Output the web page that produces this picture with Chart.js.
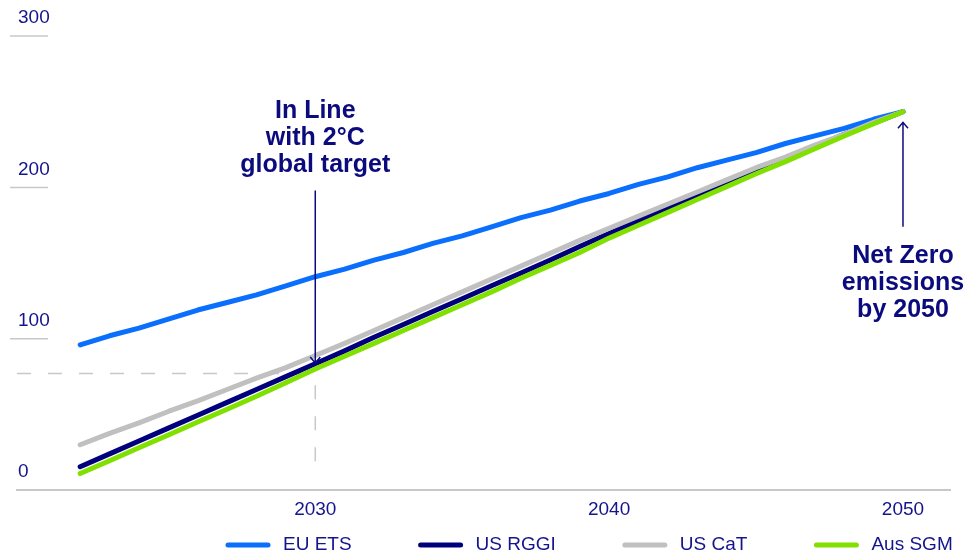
<!DOCTYPE html>
<html>
<head>
<meta charset="utf-8">
<script src="https://cdn.jsdelivr.net/npm/chart.js@4.4.1/dist/chart.umd.min.js"></script>
<style>
  html, body { margin: 0; padding: 0; background: #fff; }
  #wrap { position: relative; width: 964px; height: 557px; }
</style>
</head>
<body>
<div id="wrap"><canvas id="chart"></canvas></div>
<script>
const years = [2022, 2023, 2024, 2025, 2026, 2027, 2028, 2029, 2030, 2031, 2032, 2033, 2034, 2035,
  2036, 2037, 2038, 2039, 2040, 2041, 2042, 2043, 2044, 2045, 2046, 2047, 2048, 2049, 2050];

const euEts = [96, 102, 107, 113, 119, 124, 129, 135, 141, 146, 152, 157, 163, 168, 174,
  180, 185, 191, 196, 202, 207, 213, 218, 223, 229, 234, 239, 245, 250];
const usRggi = [15.5, 24, 32.5, 41, 49.5, 58, 66.5, 75, 83.5, 92, 101, 109.5, 118, 126.5, 135,
  143.5, 152, 161, 169.5, 178, 186.5, 195, 203, 211, 219, 227, 235, 242.5, 250];
const usCat = [30, 37.5, 44.5, 52, 59, 66.5, 74, 81, 89, 97, 105.5, 114, 122.5, 131, 139.5,
  148, 156.5, 165, 173, 181, 189, 197, 205, 213, 220, 228, 235, 243, 250];
const ausSgm = [11, 19.5, 28, 36.5, 45, 53.5, 62, 71, 80, 88.5, 97, 105.5, 114, 122.5, 131,
  140, 148.5, 157, 166.5, 175, 183.5, 192, 200.5, 209, 217, 225.5, 234, 242, 250];

const seriesNames = ['EU ETS', 'US RGGI', 'US CaT', 'Aus SGM'];
const yTicks = [0, 100, 200, 300];
const xTicks = [2030, 2040, 2050];

const TEXT = '#14148c';
const NOTE = '#0b0b7e';
const GUIDE = '#c8c8c8';
const FONT = 'Arial, "Liberation Sans", sans-serif';

Chart.defaults.font.family = FONT;

function pts(values) {
  return years.map((yr, i) => ({ x: yr, y: values[i] }));
}

function arrow(ctx, x, yFrom, yTip) {
  const dir = yTip > yFrom ? 1 : -1;
  ctx.beginPath();
  ctx.moveTo(x, yFrom);
  ctx.lineTo(x, yTip);
  ctx.moveTo(x - 5, yTip - dir * 6);
  ctx.lineTo(x, yTip);
  ctx.lineTo(x + 5, yTip - dir * 6);
  ctx.stroke();
}

const notes = {
  id: 'notes',
  beforeDatasetsDraw(chart) {
    const { ctx, chartArea, scales: { x, y } } = chart;
    ctx.save();
    ctx.strokeStyle = GUIDE;
    ctx.lineWidth = 1.5;
    // short rules under the y labels
    yTicks.forEach(v => {
      if (v === 0) return;
      const py = y.getPixelForValue(v);
      ctx.beginPath();
      ctx.moveTo(10, py);
      ctx.lineTo(48, py);
      ctx.stroke();
    });
    // dashed guide to the 2030 level
    const gx = x.getPixelForValue(2030);
    const gy = y.getPixelForValue(77);
    ctx.setLineDash([14, 17]);
    ctx.beginPath();
    ctx.moveTo(chartArea.left, gy);
    ctx.lineTo(gx, gy);
    ctx.lineTo(gx, y.getPixelForValue(10));
    ctx.stroke();
    ctx.restore();
  },
  afterDatasetsDraw(chart) {
    const { ctx, scales: { x, y } } = chart;
    ctx.save();
    ctx.strokeStyle = NOTE;
    ctx.fillStyle = NOTE;
    ctx.lineWidth = 1.5;
    ctx.font = 'bold 25px ' + FONT;
    ctx.textAlign = 'center';
    ctx.textBaseline = 'alphabetic';

    const x1 = x.getPixelForValue(2030);
    const top1 = y.getPixelForValue(198);
    arrow(ctx, x1, top1, y.getPixelForValue(84));
    ['In Line', 'with 2°C', 'global target'].forEach((t, i) => {
      ctx.fillText(t, x1, top1 - 72 + i * 27);
    });

    const x2 = x.getPixelForValue(2050);
    const tail2 = y.getPixelForValue(174);
    arrow(ctx, x2, tail2, y.getPixelForValue(243));
    ['Net Zero', 'emissions', 'by 2050'].forEach((t, i) => {
      ctx.fillText(t, x2, tail2 + 36 + i * 27);
    });
    ctx.restore();
  },
  afterDraw(chart) {
    // legend row along the bottom
    const { ctx } = chart;
    ctx.save();
    ctx.font = '19px ' + FONT;
    ctx.textBaseline = 'middle';
    ctx.textAlign = 'left';
    ctx.lineCap = 'round';
    const cy = 545;
    let cx = 228;
    chart.data.datasets.forEach(ds => {
      ctx.strokeStyle = ds.borderColor;
      ctx.lineWidth = 5;
      ctx.beginPath();
      ctx.moveTo(cx, cy);
      ctx.lineTo(cx + 40, cy);
      ctx.stroke();
      ctx.fillStyle = TEXT;
      ctx.fillText(ds.label, cx + 55, cy);
      cx += 55 + ctx.measureText(ds.label).width + 69;
    });
    ctx.restore();
  }
};

const colors = ['#0a6ffc', '#00007c', '#c0c0c0', '#80e000'];
const values = [euEts, usRggi, usCat, ausSgm];

new Chart(document.getElementById('chart'), {
  type: 'line',
  data: {
    datasets: values.map((v, i) => ({
      label: seriesNames[i],
      data: pts(v),
      borderColor: colors[i],
      backgroundColor: colors[i],
      borderWidth: 5,
      borderCapStyle: 'round',
      borderJoinStyle: 'round',
      pointRadius: 0,
      tension: 0,
      order: 3 - i
    }))
  },
  options: {
    responsive: true,
    maintainAspectRatio: false,
    animation: false,
    layout: { padding: { left: 15, right: 14, top: 36, bottom: 28 } },
    plugins: {
      legend: { display: false },
      tooltip: { enabled: false }
    },
    scales: {
      x: {
        type: 'linear',
        min: 2019.85,
        max: 2051.6,
        afterBuildTicks: axis => { axis.ticks = xTicks.map(v => ({ value: v })); },
        grid: { display: false, drawTicks: false },
        border: { display: true, color: GUIDE, width: 2 },
        ticks: { color: TEXT, font: { size: 19 }, padding: 8, maxRotation: 0, callback: v => String(v) }
      },
      y: {
        min: 0,
        max: 300,
        afterBuildTicks: axis => { axis.ticks = yTicks.map(v => ({ value: v })); },
        grid: { display: false, drawTicks: false },
        border: { display: false },
        ticks: { color: TEXT, font: { size: 19 }, mirror: true, padding: 1, labelOffset: -18 }
      }
    }
  },
  plugins: [notes]
});
</script>
</body>
</html>
